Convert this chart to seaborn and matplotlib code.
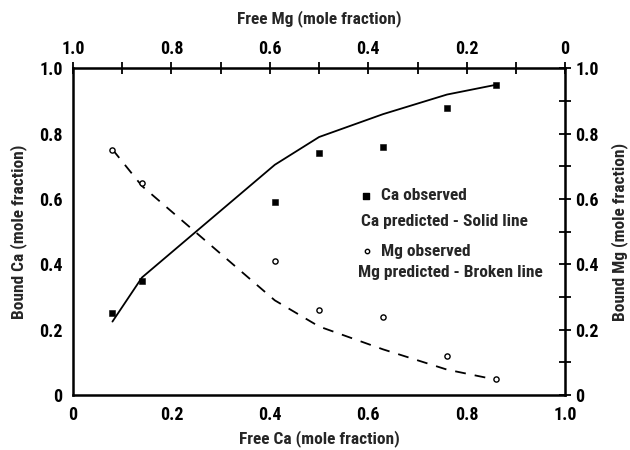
import matplotlib
matplotlib.use("Agg")
import matplotlib.pyplot as plt
import seaborn as sns
import pandas as pd
import numpy as np

free_ca = [0.08, 0.14, 0.41, 0.50, 0.63, 0.76, 0.86]
ca_observed = [0.25, 0.35, 0.59, 0.74, 0.76, 0.88, 0.95]
mg_observed = [0.75, 0.65, 0.41, 0.26, 0.24, 0.12, 0.05]
ca_predicted = [0.225, 0.36, 0.705, 0.79, 0.86, 0.92, 0.95]
mg_predicted = [0.752, 0.64, 0.29, 0.21, 0.14, 0.078, 0.047]

df = pd.DataFrame({"free_ca": free_ca, "ca_obs": ca_observed, "mg_obs": mg_observed,
                   "ca_pred": ca_predicted, "mg_pred": mg_predicted})

sns.set_style("white")
plt.rcParams["font.family"] = ["Roboto Condensed", "DejaVu Sans"]
plt.rcParams["font.stretch"] = "condensed"
plt.rcParams["font.weight"] = "bold"
FS = 12.5
TS = 13

fig = plt.figure(figsize=(6.3, 4.5), dpi=100)
ax = fig.add_axes([0.116, 0.122, 0.781, 0.726])

sns.lineplot(data=df, x="free_ca", y="ca_pred", ax=ax, color="black", lw=1.3)
sns.lineplot(data=df, x="free_ca", y="mg_pred", ax=ax, color="black", lw=1.3,
             linestyle=(0, (6, 5)))
sns.scatterplot(data=df, x="free_ca", y="ca_obs", ax=ax, marker="s", s=22,
                color="black", edgecolor="black", zorder=5)
sns.scatterplot(data=df, x="free_ca", y="mg_obs", ax=ax, marker="o", s=14,
                facecolor="white", edgecolor="black", linewidth=1.0, zorder=5)

ax.set_xlim(0, 1)
ax.set_ylim(0, 1)
ticks = np.arange(0, 1.01, 0.2)
lab = ["0", "0.2", "0.4", "0.6", "0.8", "1.0"]
minor = np.arange(0.1, 1.0, 0.2)
ax.set_xticks(ticks)
ax.set_yticks(ticks)
ax.set_xticklabels(lab)
ax.set_yticklabels(lab)
ax.set_xticks(minor, minor=True)
ax.set_yticks(minor, minor=True)

for s in ax.spines.values():
    s.set_linewidth(1.8)
    s.set_color("black")

tp = dict(which="both", direction="inout", length=9, width=1.3, labelsize=TS, colors="black", pad=3)
ax.tick_params(**tp)

ax.set_xlabel("Free Ca (mole fraction)", fontsize=FS, fontweight="bold", labelpad=5)
ax.set_ylabel("Bound Ca (mole fraction)", fontsize=FS, fontweight="bold", labelpad=9)

top = ax.secondary_xaxis("top", functions=(lambda x: 1 - x, lambda x: 1 - x))
top.set_xticks(ticks)
top.set_xticklabels(lab)
top.set_xticks(minor, minor=True)
top.tick_params(**tp)
top.set_xlabel("Free Mg (mole fraction)", fontsize=FS, fontweight="bold", labelpad=12)

right = ax.secondary_yaxis("right")
right.set_yticks(ticks)
right.set_yticklabels(lab)
right.set_yticks(minor, minor=True)
right.tick_params(**tp)
right.set_ylabel("Bound Mg (mole fraction)", fontsize=FS, fontweight="bold", labelpad=9)

# legend-like annotation
ax.scatter([0.595], [0.61], marker="s", s=18, color="black")
ax.text(0.625, 0.61, "Ca observed", fontsize=FS, va="center", ha="left")
ax.text(0.585, 0.53, "Ca predicted - Solid line", fontsize=FS, va="center", ha="left")
ax.scatter([0.597], [0.44], marker="o", s=10, facecolor="white", edgecolor="black")
ax.text(0.625, 0.44, "Mg observed", fontsize=FS, va="center", ha="left")
ax.text(0.58, 0.375, "Mg predicted - Broken line", fontsize=FS, va="center", ha="left")

fig.savefig("out.png", dpi=100)
